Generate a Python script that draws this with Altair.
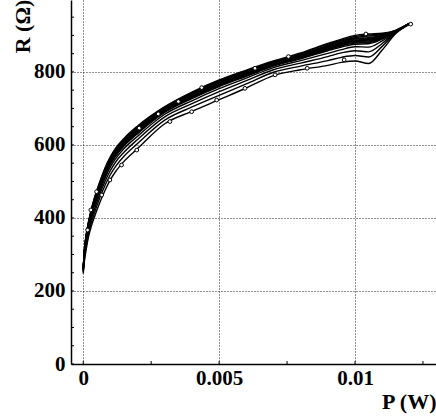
import altair as alt
import pandas as pd

# Shared power grid (W) for all curves
P = [0, 0.00005, 0.0001, 0.0002, 0.0003, 0.0004, 0.0006, 0.0008, 0.001, 0.0012,
     0.0015, 0.002, 0.003, 0.004, 0.005, 0.006, 0.007, 0.008, 0.009, 0.0095,
     0.010, 0.0105, 0.011, 0.0115, 0.012]

R_CURVES = [
    [262, 320, 350, 392, 425, 452, 497, 537, 568, 592, 618, 652, 705, 745, 778, 805, 830, 852, 878, 890, 900, 904, 906, 914, 933],
    [261, 319, 348, 390, 423, 450, 495, 534, 565, 589, 615, 649, 703, 743, 776, 803, 828, 850, 876, 887, 897, 901, 904, 914, 933],
    [261, 317, 347, 389, 421, 448, 492, 532, 563, 587, 613, 647, 701, 741, 774, 801, 827, 848, 873, 885, 894, 898, 902, 913, 933],
    [260, 316, 345, 387, 419, 446, 490, 530, 560, 584, 610, 645, 699, 739, 772, 799, 825, 847, 871, 882, 892, 894, 900, 913, 933],
    [260, 315, 344, 386, 418, 444, 488, 528, 559, 582, 609, 643, 698, 737, 770, 798, 824, 845, 869, 880, 890, 892, 899, 913, 933],
    [259, 314, 343, 384, 416, 443, 487, 526, 557, 580, 607, 641, 696, 735, 768, 796, 823, 844, 867, 878, 887, 889, 898, 912, 932],
    [259, 313, 342, 383, 415, 441, 485, 524, 555, 579, 605, 639, 695, 734, 767, 795, 822, 842, 865, 877, 885, 887, 896, 912, 932],
    [259, 312, 340, 382, 414, 440, 483, 522, 553, 577, 603, 637, 694, 732, 765, 793, 820, 841, 864, 875, 883, 885, 895, 912, 932],
    [258, 311, 339, 381, 412, 438, 482, 520, 551, 575, 601, 635, 692, 731, 763, 792, 819, 840, 862, 873, 881, 882, 894, 912, 932],
    [258, 310, 338, 379, 411, 436, 480, 518, 549, 573, 599, 633, 691, 729, 762, 790, 818, 838, 860, 871, 879, 880, 892, 911, 932],
    [257, 308, 336, 378, 409, 434, 478, 516, 547, 570, 597, 631, 689, 727, 760, 788, 816, 836, 858, 868, 876, 877, 890, 911, 932],
    [256, 304, 332, 373, 404, 429, 471, 509, 540, 563, 590, 624, 684, 721, 754, 783, 812, 831, 851, 861, 869, 868, 885, 910, 932],
    [254, 299, 326, 367, 397, 421, 463, 500, 530, 554, 580, 615, 677, 713, 746, 776, 806, 824, 842, 852, 858, 855, 878, 909, 931],
    [251, 293, 319, 359, 388, 411, 453, 489, 519, 542, 569, 604, 668, 704, 736, 767, 799, 816, 831, 840, 845, 841, 870, 907, 931],
    [248, 285, 310, 350, 378, 400, 440, 475, 505, 528, 555, 590, 658, 692, 724, 756, 790, 806, 818, 826, 830, 823, 860, 905, 930],
]

# Open-circle markers visible on the upper and lower curves
MARK_TOP_P = [0.00016, 0.00028, 0.00049, 0.00206, 0.00276, 0.0035, 0.00436, 0.00632, 0.00755, 0.0104, 0.01205]
MARK_TOP_R = [367, 422, 472, 646, 685, 719, 757, 810, 842, 904, 931]
MARK_BOT_P = [0.00068, 0.00098, 0.00141, 0.00197, 0.00319, 0.00399, 0.00491, 0.00595, 0.00706, 0.00824, 0.0096]
MARK_BOT_R = [463, 504, 545, 586, 664, 691, 723, 755, 792, 810, 833]

X_LABELS = [0, 0.005, 0.01]
X_TICKS = [0, 0.0025, 0.005, 0.0075, 0.01, 0.0125]
Y_LABELS = [0, 200, 400, 600, 800]
Y_TICKS = [0, 50, 100, 150, 200, 250, 300, 350, 400, 450, 500, 550, 600, 650, 700, 750, 800, 850, 900, 950]

W, H = 365, 364
FONT = "Liberation Serif"

rows = []
for i, rs in enumerate(R_CURVES):
    for p, r in zip(P, rs):
        rows.append({"curve": i, "P": p, "R": r})
df = pd.DataFrame(rows)

marks = pd.DataFrame({"P": MARK_TOP_P + MARK_BOT_P, "R": MARK_TOP_R + MARK_BOT_R})

xs = alt.Scale(domain=[-0.00045, 0.01298], nice=False, zero=False)
ys = alt.Scale(domain=[0, 997], nice=False, zero=False)

x_axis = alt.Axis(
    values=X_LABELS, format="~g", grid=True, gridDash=[1, 2], gridColor="#222",
    gridWidth=1, ticks=False, domainColor="black", domainWidth=1.5,
    labelFont=FONT, labelFontSize=21, labelFontWeight="bold", labelColor="black",
    labelPadding=3, labelOverlap=False,
    title="P (W)", titleFont=FONT, titleFontSize=22, titleFontWeight="bold",
    titleColor="black", titleX=W, titleY=44, titleAlign="right",
    titleBaseline="alphabetic",
)
y_axis = alt.Axis(
    values=Y_LABELS, grid=True, gridDash=[1, 2], gridColor="#222",
    gridWidth=1, ticks=False, domainColor="black", domainWidth=1.5,
    labelFont=FONT, labelFontSize=21, labelFontWeight="bold", labelColor="black",
    labelPadding=6, labelOverlap=False,
    title="R (Ω)", titleFont=FONT, titleFontSize=22, titleFontWeight="bold",
    titleColor="black", titleX=-49, titleY=26, titleAngle=270,
    titleAlign="center", titleBaseline="middle",
)

lines = alt.Chart(df).mark_line(color="black", strokeWidth=1.4, interpolate="monotone").encode(
    x=alt.X("P:Q", scale=xs, axis=x_axis),
    y=alt.Y("R:Q", scale=ys, axis=y_axis),
    detail="curve:N",
)

points = alt.Chart(marks).mark_point(
    shape="circle", filled=True, fill="white", stroke="black", strokeWidth=1, size=14, opacity=1
).encode(
    x=alt.X("P:Q", scale=xs),
    y=alt.Y("R:Q", scale=ys),
)

ytk = alt.Chart(pd.DataFrame({"R": Y_TICKS})).mark_rule(color="black", strokeWidth=1).encode(
    y=alt.Y("R:Q", scale=ys), x=alt.value(0), x2=alt.value(3)
)
xtk = alt.Chart(pd.DataFrame({"P": X_TICKS})).mark_rule(color="black", strokeWidth=1).encode(
    x=alt.X("P:Q", scale=xs), y=alt.value(H), y2=alt.value(H - 3)
)

chart = alt.layer(lines, points, ytk, xtk).properties(
    width=W, height=H,
    autosize=alt.AutoSizeParams(type="none"),
    padding={"left": 71, "top": 0, "right": 0, "bottom": 55},
    background="white",
).configure_view(stroke=None)

chart.save("out.html", embed_options={"renderer": "svg", "actions": False})
